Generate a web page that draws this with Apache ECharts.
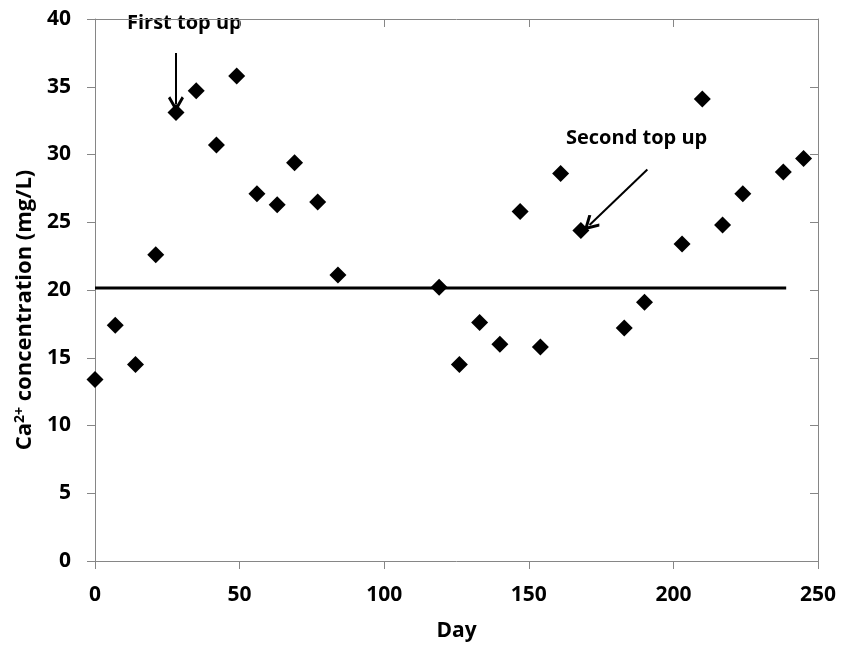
<!DOCTYPE html>
<html><head><meta charset="utf-8">
<script src="https://cdn.jsdelivr.net/npm/echarts@6/dist/echarts.min.js"></script>
<style>html,body{margin:0;padding:0;background:#fff}#c{width:842px;height:647px}</style>
</head><body><div id="c"></div>
<script>
var days = [0,7,14,21,28,35,42,49,56,63,69,77,84,119,126,133,140,147,154,161,168,183,190,203,210,217,224,238,245];
var caValues = [13.4,17.4,14.5,22.6,33.1,34.7,30.7,35.8,27.1,26.3,29.4,26.5,21.1,20.2,14.5,17.6,16.0,25.8,15.8,28.6,24.4,17.2,19.1,23.4,34.1,24.8,27.1,28.7,29.7];
var refLineDays = [0,239];
var refLineValue = 20.15;
var xTicks = [0,50,100,150,200,250];
var yTicks = [0,5,10,15,20,25,30,35,40];
var annotations = ['First top up','Second top up'];
var arrow1 = [[28,37.5],[28,33.7]];
var arrow2 = [[191,28.9],[171,24.8]];

var FONT = 'Open Sans';
var chevron = 'path://M5,0 L10,8.4 L8.6,9.6 L5,3.6 L1.4,9.6 L0,8.4 Z';
var chart = echarts.init(document.getElementById('c'));
var grid = {left:95,right:24,top:19,bottom:84};
var axisGray = '#868686';
function baseX(show){return {type:'value',min:0,max:250,interval:50,
  axisLine:{show:true,onZero:false,lineStyle:{color:axisGray,width:1}},
  axisTick:{show:true,inside:!show,length:8,lineStyle:{color:axisGray}},
  axisLabel:{show:show,margin:24,fontFamily:FONT,fontWeight:'bold',fontSize:21,color:'#000'},
  splitLine:{show:false}};}
function baseY(show){return {type:'value',min:0,max:40,interval:5,
  axisLine:{show:true,onZero:false,lineStyle:{color:axisGray,width:1}},
  axisTick:{show:true,inside:!show,length:8,lineStyle:{color:axisGray}},
  axisLabel:{show:show,margin:24,fontFamily:FONT,fontWeight:'bold',fontSize:21,color:'#000'},
  splitLine:{show:false}};}
var x0 = baseX(true); x0.name='Day'; x0.nameLocation='middle'; x0.nameGap=60;
x0.nameTextStyle={fontFamily:FONT,fontWeight:'bold',fontSize:21,color:'#000'};
var y0 = baseY(true); y0.name='Ca{sup|2+} concentration (mg/L)'; y0.nameLocation='middle'; y0.nameGap=58;
y0.nameTextStyle={fontFamily:FONT,fontWeight:'bold',fontSize:22,color:'#000',padding:[0,40,0,0],
  rich:{sup:{fontFamily:FONT,fontWeight:'bold',fontSize:14,color:'#000',verticalAlign:'top',padding:[0,0,10,0]}}};
var x1 = baseX(false); var y1 = baseY(false);

chart.setOption({
  animation:false,
  grid:grid,
  xAxis:[x0,x1],
  yAxis:[y0,y1],
  series:[
    {type:'line',xAxisIndex:0,yAxisIndex:0,data:refLineDays.map(function(d){return [d,refLineValue];}),
     symbol:'none',lineStyle:{color:'#000',width:3},z:2,
     markLine:{silent:true,symbol:['none',chevron],symbolSize:[16,16],
       lineStyle:{color:'#000',width:2,type:'solid'},label:{show:false},
       data:[[{coord:arrow1[0]},{coord:arrow1[1]}],[{coord:arrow2[0]},{coord:arrow2[1]}]]}},
    {type:'scatter',xAxisIndex:0,yAxisIndex:0,data:days.map(function(d,i){return [d,caValues[i]];}),
     symbol:'diamond',symbolSize:17,itemStyle:{color:'#000',opacity:1},z:3}
  ],
  graphic:[
    {type:'text',left:127,top:13,style:{text:annotations[0],font:'bold 20px "'+FONT+'"',fill:'#000'}},
    {type:'text',left:566,top:128,style:{text:annotations[1],font:'bold 20px "'+FONT+'"',fill:'#000'}}
  ]
});
</script></body></html>
